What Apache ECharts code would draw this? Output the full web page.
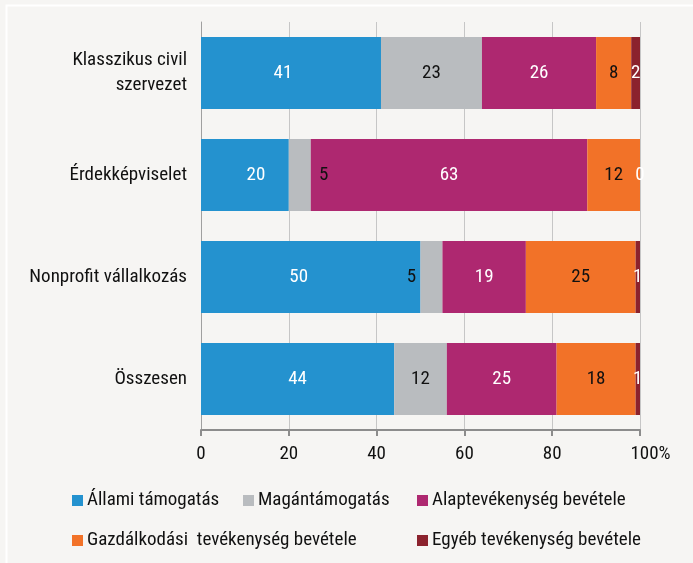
<!DOCTYPE html>
<html>
<head>
<meta charset="utf-8">
<script src="https://cdn.jsdelivr.net/npm/echarts@6/dist/echarts.min.js"></script>
<style>
    html, body {margin: 0; padding: 0; background: #f6f5f3;}
    #chart {width: 693px; height: 563px;}
</style>
</head>
<body>
<div id="chart"></div>
<script>
var categories = ['Klasszikus civil\nszervezet', 'Érdekképviselet', 'Nonprofit vállalkozás', 'Összesen'];
var seriesNames = ['Állami támogatás', 'Magántámogatás', 'Alaptevékenység bevétele', 'Gazdálkodási  tevékenység bevétele', 'Egyéb tevékenység bevétele'];
var allami = [41, 20, 50, 44];
var magan = [23, 5, 5, 12];
var alap = [26, 63, 19, 25];
var gazd = [8, 12, 25, 18];
var egyeb = [2, 0, 1, 1];
var tickLabels = ['0', '20', '40', '60', '80', '100%'];

var colors = ['#2492cf', '#b9bcbf', '#ae2870', '#f27228', '#8b222d'];
var labelColors = ['#fff', '#111', '#fff', '#111', '#fff'];
var font = '"Roboto Condensed", "Liberation Sans", Arial, sans-serif';
var fs = 19;

// label nudges where the original labels sit off-center
var labelShift = {'1-1': [24, 0], '1-2': [-20, 0], '0-1': [11, 0], '0-0': [-8, 0], '0-2': [-12, 0]};

var values = [allami, magan, alap, gazd, egyeb];
var series = [];
for (var s = 0; s < values.length; s++) {
    var data = [];
    for (var i = 0; i < values[s].length; i++) {
        var item = {value: values[s][i]};
        var key = s + '-' + i;
        if (labelShift[key]) {
            item.label = {offset: labelShift[key]};
        }
        data.push(item);
    }
    series.push({
        name: seriesNames[s],
        type: 'bar',
        stack: 'all',
        barWidth: 72,
        data: data,
        itemStyle: {color: colors[s]},
        label: {
            show: true,
            position: 'inside',
            color: labelColors[s],
            fontFamily: font,
            fontSize: fs
        }
    });
}

var legendPos = [[72, 491], [243, 491], [417, 491], [72, 531], [417, 531]];
var legends = [];
for (var k = 0; k < seriesNames.length; k++) {
    legends.push({
        data: [seriesNames[k]],
        left: legendPos[k][0],
        top: legendPos[k][1],
        itemWidth: 11,
        itemHeight: 11,
        itemGap: 0,
        padding: 0,
        icon: 'rect',
        selectedMode: false,
        textStyle: {fontFamily: font, fontSize: fs, color: '#111', padding: [0, 0, 0, -1]}
    });
}

var myChart = echarts.init(document.getElementById('chart'));
var option = {
    backgroundColor: '#f6f5f3',
    animation: false,
    graphic: [{
        type: 'rect',
        shape: {x: 6.5, y: 5.5, width: 700, height: 600},
        style: {fill: 'none', stroke: '#ffffff', lineWidth: 2}
    }],
    legend: legends,
    grid: {left: 201, right: 53, top: 22, bottom: 133},
    xAxis: {
        type: 'value',
        min: 0,
        max: 100,
        interval: 20,
        axisLine: {show: true, lineStyle: {color: '#8c8c8c', width: 2}},
        axisTick: {show: true, length: 6, lineStyle: {color: '#8c8c8c', width: 2}},
        splitLine: {show: true, lineStyle: {color: '#c6c6c6', width: 1}},
        axisLabel: {
            margin: 15,
            fontFamily: font,
            fontSize: fs,
            color: '#111',
            formatter: function (v) {
                var t = tickLabels[Math.round(v / 20)];
                return v === 100 ? '{last|' + t + '}' : t;
            },
            rich: {
                last: {fontFamily: font, fontSize: fs, color: '#111', padding: [0, 0, 0, 21]}
            }
        }
    },
    yAxis: {
        type: 'category',
        inverse: true,
        data: categories,
        axisLine: {show: true, lineStyle: {color: '#a0a0a0', width: 1}},
        axisTick: {show: false},
        axisLabel: {
            margin: 14,
            fontFamily: font,
            fontSize: fs,
            color: '#111',
            lineHeight: 25,
            align: 'right'
        }
    },
    series: series
};
myChart.setOption(option);
</script>
</body>
</html>
